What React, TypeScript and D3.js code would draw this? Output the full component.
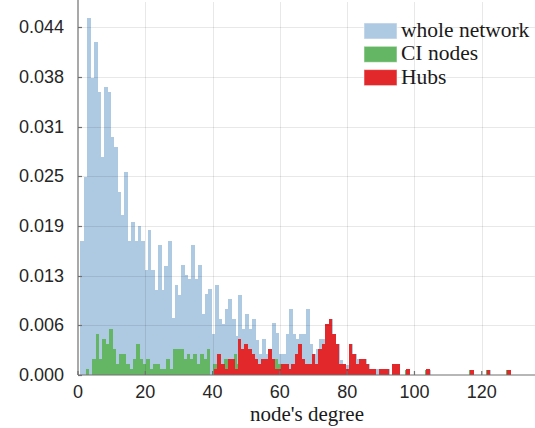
import * as d3 from 'd3'

// fraction of nodes per degree
// whole network: degree 1..95
const wholeNetwork = [
  0.0170, 0.0251, 0.0452, 0.0376, 0.0421, 0.0358, 0.0276, 0.0364, 0.0358, 0.0301,
  0.0288, 0.0231, 0.0202, 0.0257, 0.0170, 0.0194, 0.0170, 0.0189, 0.0170, 0.0133,
  0.0183, 0.0133, 0.0107, 0.0164, 0.0107, 0.0138, 0.0170, 0.0072, 0.0114, 0.0101,
  0.0139, 0.0127, 0.0121, 0.0165, 0.0121, 0.0139, 0.0077, 0.0102, 0.0109, 0.0052,
  0.0114, 0.0071, 0.0065, 0.0083, 0.0096, 0.0071, 0.0049, 0.0101, 0.0058, 0.0077,
  0.0058, 0.0071, 0.0044, 0.0026, 0.0045, 0.0026, 0.0033, 0.0066, 0.0053, 0.0026,
  0.0026, 0.0052, 0.0083, 0.0052, 0.0045, 0.0052, 0.0052, 0.0083, 0.0039, 0.0026,
  0.0033, 0.0045, 0.0045, 0.0064, 0.0071, 0.0052, 0.0039, 0.0019, 0.0013, 0.0013,
  0.0039, 0.0027, 0.0020, 0.0020, 0.0020, 0.0014, 0.0007, 0.0007, 0.0007, 0.0007,
  0.0007, 0.0007, 0, 0.0014, 0.0014
]
// CI nodes: degree 1..79
const ciNodes = [
  0, 0, 0.0007, 0, 0.0020, 0.0052, 0.0020, 0.0045, 0.0039, 0.0058,
  0.0033, 0.0014, 0.0026, 0.0026, 0.0014, 0.0007, 0.0020, 0.0039, 0.0020, 0.0014,
  0.0020, 0.0007, 0.0014, 0.0014, 0.0007, 0.0007, 0.0020, 0.0007, 0.0033, 0.0033,
  0.0033, 0.0020, 0.0026, 0.0020, 0.0026, 0.0014, 0.0026, 0.0020, 0.0033, 0,
  0.0014, 0.0014, 0.0014, 0.0020, 0.0020, 0.0014, 0.0026, 0.0014, 0.0020, 0.0014,
  0.0026, 0.0014, 0.0007, 0, 0.0007, 0.0014, 0, 0, 0.0020, 0.0014,
  0, 0, 0, 0, 0, 0.0014, 0, 0.0014, 0, 0,
  0.0014, 0, 0, 0.0007, 0, 0.0007, 0, 0, 0.0007
]
// hubs: degree 41..95
const hubs = [
  0.0007, 0.0026, 0.0014, 0.0007, 0.0020, 0.0020, 0.0007, 0.0045, 0.0033, 0.0039,
  0.0033, 0.0026, 0.0020, 0.0014, 0.0020, 0.0020, 0.0033, 0.0020, 0.0007, 0.0007,
  0.0014, 0.0014, 0.0007, 0.0014, 0.0026, 0.0039, 0.0020, 0.0014, 0.0014, 0.0026,
  0.0014, 0.0033, 0.0039, 0.0064, 0.0071, 0.0052, 0.0039, 0.0014, 0.0014, 0.0007,
  0.0039, 0.0026, 0.0014, 0.0020, 0.0020, 0.0014, 0.0007, 0.0007, 0, 0.0007,
  0.0007, 0.0007, 0, 0.0014, 0.0014
]
// isolated high-degree nodes
const tailDegrees = [98, 104, 117, 122, 128]
const tailWhole = [0.0006, 0.0006, 0.0006, 0.0006, 0.0006]
const tailCi = [0.0006, 0.0006, 0.0006, 0.0006, 0.0006]
const tailHubs = [0.0007, 0.0007, 0.0006, 0.0006, 0.0006]

const xTicks = [0, 20, 40, 60, 80, 100, 120]
const yTicks = d3.range(8).map((i) => (i * 0.044) / 7)

const W = 535
const H = 428

const BLUE = '#aecae3'
const GREEN = '#64b664'
const RED = '#e3282c'

type Bin = { deg: number; v: number }

function toBins(values: number[], start: number, tailVals: number[]): Bin[] {
  const main = values.map((v, i) => ({ deg: start + i, v }))
  const tail = tailDegrees.map((deg, i) => ({ deg, v: tailVals[i] }))
  return [...main, ...tail].filter((b) => b.v > 0)
}

const series = [
  { name: 'whole network', color: BLUE, bins: toBins(wholeNetwork, 1, tailWhole), shift: -0.3 },
  { name: 'CI nodes', color: GREEN, bins: toBins(ciNodes, 1, tailCi), shift: -0.75 },
  { name: 'Hubs', color: RED, bins: toBins(hubs, 41, tailHubs), shift: -0.55 }
]

export default function App() {
  const x = d3.scaleLinear().domain([0, 136]).range([78, 535.6])
  const y = d3.scaleLinear().domain([0, 0.0472]).range([375, 2])
  const fmt = d3.format('.3f')
  const [x0, x1] = x.range()
  const [y0, y1] = y.range()

  return (
    <svg width={W} height={H} style={{ position: 'absolute', left: 0, top: 0, background: '#fff' }}>
      {/* bars */}
      {series.map((s) => (
        <g key={s.name} shapeRendering="crispEdges">
          {s.bins.map((b) => (
            <rect
              key={b.deg}
              x={x(b.deg + s.shift)}
              y={y(b.v)}
              width={x(b.deg + s.shift + 1) - x(b.deg + s.shift) + 0.4}
              height={y(0) - y(b.v)}
              fill={s.color}
            />
          ))}
        </g>
      ))}

      {/* grid on top, faint */}
      <g stroke="rgba(0,0,0,0.09)" strokeWidth={1}>
        {xTicks.slice(1).map((t) => (
          <line key={t} x1={Math.round(x(t)) + 0.5} x2={Math.round(x(t)) + 0.5} y1={y1} y2={y0} />
        ))}
        {yTicks.slice(1).map((t) => (
          <line key={t} x1={x0} x2={x1} y1={Math.round(y(t)) + 0.5} y2={Math.round(y(t)) + 0.5} />
        ))}
      </g>

      {/* axes */}
      <g stroke="#707070" strokeWidth={1.2}>
        <line x1={x0} x2={x0} y1={0} y2={y0} />
        <line x1={x0} x2={x1} y1={y0} y2={y0} />
        {yTicks.map((t) => (
          <line key={t} x1={x0} x2={x0 + 4} y1={Math.round(y(t)) + 0.5} y2={Math.round(y(t)) + 0.5} />
        ))}
        {xTicks.map((t) => (
          <line key={t} x1={x(t)} x2={x(t)} y1={y0} y2={y0 - 4} />
        ))}
      </g>

      <g fontFamily="Liberation Sans, Arial, sans-serif" fontSize={18} fill="#262626">
        {yTicks.map((t) => (
          <text key={t} x={64} y={y(t)} textAnchor="end" dominantBaseline="central">
            {fmt(t)}
          </text>
        ))}
        {xTicks.map((t) => (
          <text key={t} x={x(t)} y={398} textAnchor="middle">
            {t}
          </text>
        ))}
      </g>

      <text x={307} y={421} textAnchor="middle" fontFamily="Liberation Serif, serif" fontSize={21} fill="#1a1a1a">
        node's degree
      </text>

      {/* legend */}
      <g fontFamily="Liberation Serif, serif" fontSize={21.5} fill="#1a1a1a">
        {series.map((s, i) => (
          <g key={s.name} transform={`translate(364,${23 + i * 23.3})`}>
            <rect width={33} height={16} fill={s.color} stroke="#fff" strokeOpacity={0.5} />
            <text x={37} y={14}>
              {s.name}
            </text>
          </g>
        ))}
      </g>
    </svg>
  )
}
